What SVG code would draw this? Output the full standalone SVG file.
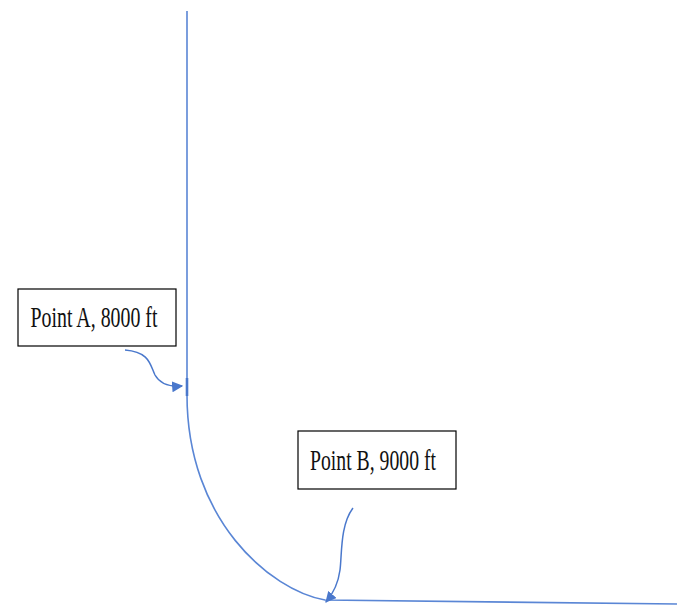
<svg xmlns="http://www.w3.org/2000/svg" width="683" height="606" viewBox="0 0 683 606">
  <style>
    .well { fill: none; stroke: #5a86d5; stroke-width: 1.6; }
    .lead { fill: none; stroke: #4a78cc; stroke-width: 1.5; }
    .box { fill: #ffffff; stroke: #000000; stroke-width: 1.2; }
    .lbl { font-family: "Liberation Serif", "Times New Roman", serif; font-size: 30px; fill: #111111; }
  </style>
  <defs>
    <marker id="head" viewBox="0 0 10 10" refX="9" refY="5" markerWidth="11" markerHeight="11" orient="auto" markerUnits="userSpaceOnUse">
      <path d="M0,0 L10,5 L0,10 Z" fill="#4a78cc"/>
    </marker>
  </defs>

  <!-- well path: vertical section, build curve, horizontal section -->
  <g id="connectors">
    <path class="well" d="M187,11 L187,395 C187,520 270,590 325,600 L677,604"/>
    <path d="M187,378 L187,396" stroke="#4a78cc" stroke-width="2.6" fill="none"/>
    <path class="lead" d="M125,350 C150,352 150,365 155,375 C160,384 170,387 182,386" marker-end="url(#head)"/>
    <path class="lead" d="M353,508 C340,525 342,555 340,570 C338,585 332,595 326,602" marker-end="url(#head)"/>
  </g>

  <g id="pointA">
    <rect class="box" x="18" y="289" width="158" height="57"/>
    <text class="lbl" x="30.5" y="327" textLength="127" lengthAdjust="spacingAndGlyphs">Point A, 8000 ft</text>
  </g>

  <g id="pointB">
    <rect class="box" x="298" y="431" width="158" height="58"/>
    <text class="lbl" x="310" y="470" textLength="126" lengthAdjust="spacingAndGlyphs">Point B, 9000 ft</text>
  </g>
</svg>
